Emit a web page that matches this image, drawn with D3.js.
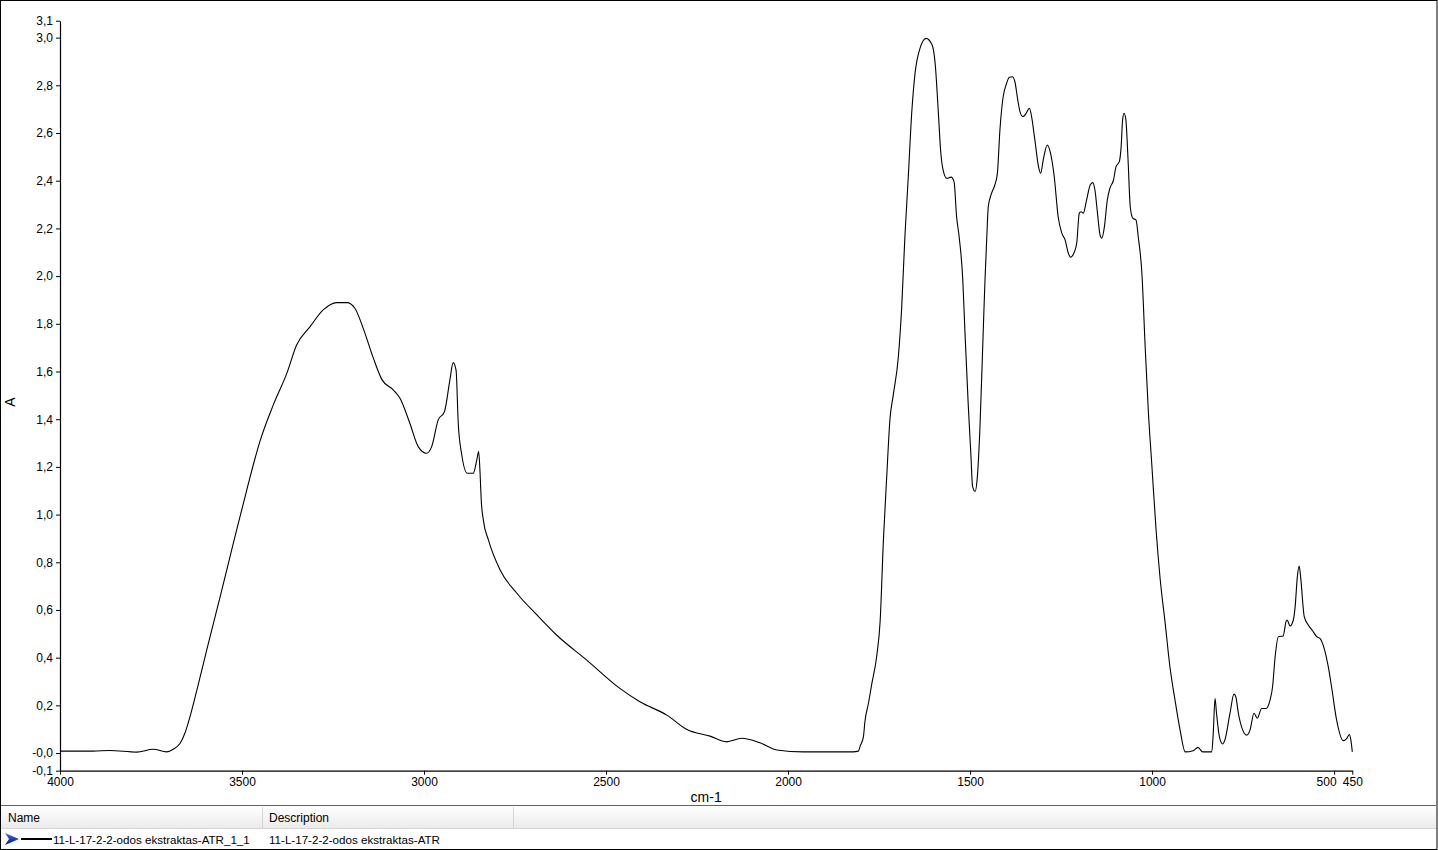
<!DOCTYPE html>
<html>
<head>
<meta charset="utf-8">
<script src="https://cdn.jsdelivr.net/npm/d3@7"></script>
<style>
  html, body { margin: 0; padding: 0; background: #fff; }
  svg { display: block; }
  text { font-family: "Liberation Sans", Arial, sans-serif; fill: #000; }
</style>
</head>
<body>
<svg id="chart" width="1438" height="850"></svg>
<script>
// ---- data ----
const wavenumbers = [
  4000,3909,3863,3789,3744,3707,3689,3670,3657,3643,3624,3597,3560,3524,3487,3451,3414,3377,3350,3313,
  3277,3240,3212,3190,3167,3139,3116,3084,3066,3039,3016,2993,2979,2961,2944,2929,2920,2912,2906,2897,
  2881,2865,2855,2850,2846,2843,2837,2823,2791,2745,2690,2636,2553,2462,2407,2333,2278,2214,2169,2127,
  2077,2031,1958,1866,1821,1807,1802,1793,1789,1779,1770,1756,1747,1738,1729,1720,1711,1697,1688,1679,
  1670,1660,1651,1638,1621,1605,1596,1587,1581,1575,1564,1552,1544,1537,1530,1520,1514,1505,1498,1493,
  1486,1480,1473,1464,1459,1454,1450,1441,1432,1425,1418,1409,1401,1392,1384,1377,1369,1363,1355,1347,
  1337,1331,1322,1312,1306,1299,1288,1280,1269,1258,1248,1239,1230,1224,1215,1207,1200,1195,1189,1180,
  1170,1163,1157,1150,1143,1138,1131,1123,1116,1106,1099,1090,1085,1081,1077,1072,1066,1060,1053,1044,
  1038,1028,1019,1010,1001,989,978,964,951,937,923,909,887,874,861,836,832,827,823,815,
  806,800,786,775,770,763,751,740,731,720,711,699,687,676,669,662,653,640,632,629,
  621,612,607,601,596,592,582,571,559,548,539,526,516,507,493,475,465,458,454,450
];
const absorbance = [
  0.008,0.008,0.011,0.004,0.016,0.005,0.016,0.041,0.083,0.152,0.264,0.432,0.656,0.879,1.103,1.306,1.460,1.592,1.711,1.788,
  1.858,1.889,1.889,1.865,1.781,1.655,1.567,1.522,1.488,1.383,1.285,1.257,1.285,1.397,1.431,1.564,1.637,1.606,1.383,1.257,
  1.173,1.173,1.229,1.264,1.173,1.064,0.977,0.893,0.768,0.670,0.579,0.495,0.390,0.271,0.215,0.159,0.099,0.071,0.047,0.062,
  0.043,0.013,0.005,0.005,0.005,0.008,0.029,0.068,0.130,0.210,0.290,0.411,0.554,0.895,1.158,1.401,1.501,1.662,1.864,2.166,
  2.409,2.691,2.852,2.953,2.997,2.972,2.893,2.683,2.529,2.452,2.410,2.415,2.396,2.249,2.165,1.984,1.763,1.460,1.258,1.117,
  1.097,1.158,1.359,1.763,1.984,2.166,2.291,2.347,2.382,2.431,2.613,2.753,2.802,2.834,2.836,2.816,2.739,2.690,2.669,2.680,
  2.704,2.669,2.571,2.459,2.431,2.487,2.550,2.522,2.420,2.249,2.180,2.152,2.096,2.079,2.096,2.138,2.264,2.270,2.264,2.319,
  2.382,2.392,2.361,2.264,2.173,2.159,2.207,2.319,2.368,2.403,2.459,2.480,2.543,2.655,2.683,2.655,2.487,2.291,2.243,2.235,
  2.165,2.012,1.704,1.425,1.215,0.935,0.733,0.544,0.362,0.222,0.096,0.005,0.010,0.024,0.005,0.005,0.083,0.229,0.167,0.068,
  0.038,0.055,0.167,0.247,0.236,0.167,0.096,0.075,0.096,0.167,0.146,0.187,0.187,0.222,0.278,0.404,0.488,0.491,0.551,0.558,
  0.533,0.558,0.614,0.739,0.784,0.739,0.572,0.537,0.513,0.488,0.481,0.432,0.362,0.278,0.138,0.052,0.062,0.078,0.055,0.005
];
const xTickValues = [4000, 3500, 3000, 2500, 2000, 1500, 1000, 500, 450];
const yTickValues = [-0.074, 0, 0.2, 0.4, 0.6, 0.8, 1.0, 1.2, 1.4, 1.6, 1.8, 2.0, 2.2, 2.4, 2.6, 2.8, 3.0, 3.071];
const yTickLabels = ["-0,1","-0,0","0,2","0,4","0,6","0,8","1,0","1,2","1,4","1,6","1,8","2,0","2,2","2,4","2,6","2,8","3,0","3,1"];
const xDomain = [4000, 450];
const yDomain = [-0.074, 3.071];
const xTitle = "cm-1";
const yTitle = "A";
const legendHeaders = ["Name", "Description"];
const seriesName = "11-L-17-2-2-odos ekstraktas-ATR_1_1";
const seriesDescription = "11-L-17-2-2-odos ekstraktas-ATR";

// ---- drawing ----
const svg = d3.select("#chart");
const W = 1438, H = 850;
const plot = { left: 60, right: 1352.3, top: 20.7, bottom: 770.7 };

const x = d3.scaleLinear().domain(xDomain).range([plot.left, plot.right]);
const y = d3.scaleLinear().domain(yDomain).range([plot.bottom, plot.top]);

// outer frame
svg.append("rect").attr("x", 0.5).attr("y", 0.5).attr("width", W - 1.5).attr("height", H - 1)
  .attr("fill", "#fff").attr("stroke", "#000").attr("stroke-width", 1);

// spectrum line
const pts = wavenumbers.map((w, i) => [w, absorbance[i]]);
const line = d3.line().x(d => x(d[0])).y(d => y(d[1])).curve(d3.curveMonotoneX);
svg.append("path").datum(pts)
  .attr("d", line)
  .attr("fill", "none")
  .attr("stroke", "#000")
  .attr("stroke-width", 1.1)
  .attr("stroke-linejoin", "round");

// axes
const yAxis = d3.axisLeft(y).tickValues(yTickValues)
  .tickFormat((d, i) => yTickLabels[i]).tickSize(4).tickSizeOuter(0).tickPadding(3);
const gy = svg.append("g").attr("transform", `translate(${plot.left},0)`).call(yAxis);

const xAxis = d3.axisBottom(x).tickValues(xTickValues)
  .tickFormat(d3.format("d")).tickSize(4).tickSizeOuter(0).tickPadding(3);
const gx = svg.append("g").attr("transform", `translate(0,${plot.bottom})`).call(xAxis);

[gx, gy].forEach(g => {
  g.select(".domain").attr("stroke", "#000").attr("stroke-width", 1.2);
  g.selectAll(".tick line").attr("stroke", "#000");
  g.selectAll(".tick text").attr("font-size", 12).attr("fill", "#000")
    .attr("font-family", '"Liberation Sans", Arial, sans-serif');
});
// keep the crowded "500" label clear of "450"
gx.selectAll(".tick text").filter(d => d === 500).attr("dx", -8);

// axis titles
svg.append("text").text(xTitle)
  .attr("x", (plot.left + plot.right) / 2).attr("y", 802)
  .attr("text-anchor", "middle").attr("font-size", 14);
svg.append("text").text(yTitle)
  .attr("transform", "translate(15,402) rotate(-90)")
  .attr("text-anchor", "middle").attr("font-size", 14);

// ---- legend table ----
const defs = svg.append("defs");
const grad = defs.append("linearGradient").attr("id", "hdr").attr("x1", 0).attr("y1", 0).attr("x2", 0).attr("y2", 1);
grad.append("stop").attr("offset", "0%").attr("stop-color", "#ffffff");
grad.append("stop").attr("offset", "100%").attr("stop-color", "#ebebeb");
const agrad = defs.append("linearGradient").attr("id", "arr").attr("x1", 0).attr("y1", 0).attr("x2", 0).attr("y2", 1);
agrad.append("stop").attr("offset", "0%").attr("stop-color", "#3f6fff");
agrad.append("stop").attr("offset", "100%").attr("stop-color", "#00107a");

svg.append("rect").attr("x", 1).attr("y", 806).attr("width", W - 3).attr("height", 22).attr("fill", "url(#hdr)");
svg.append("line").attr("x1", 1).attr("x2", W - 2).attr("y1", 805.5).attr("y2", 805.5).attr("stroke", "#646464");
svg.append("line").attr("x1", 1).attr("x2", W - 2).attr("y1", 828.5).attr("y2", 828.5).attr("stroke", "#d5d5d5");
[262.5, 513.5].forEach(cx => {
  svg.append("line").attr("x1", cx).attr("x2", cx).attr("y1", 807).attr("y2", 828)
    .attr("stroke", "#d5d5d5");
});
svg.append("text").text(legendHeaders[0]).attr("x", 8).attr("y", 822).attr("font-size", 12);
svg.append("text").text(legendHeaders[1]).attr("x", 269).attr("y", 822).attr("font-size", 12);

// row
svg.append("path").attr("d", "M5,833 L19,839 L5,845 L9,839 Z").attr("fill", "url(#arr)");
svg.append("line").attr("x1", 21).attr("x2", 52).attr("y1", 839).attr("y2", 839)
  .attr("stroke", "#000").attr("stroke-width", 2);
svg.append("text").text(seriesName).attr("x", 53).attr("y", 843.5).attr("font-size", 11.6);
svg.append("text").text(seriesDescription).attr("x", 269).attr("y", 843.5).attr("font-size", 11.6);
</script>
</body>
</html>
